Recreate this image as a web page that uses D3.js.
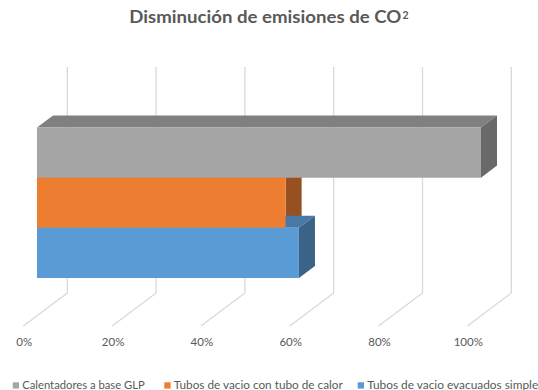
<!DOCTYPE html>
<html>
<head>
<meta charset="utf-8">
<script src="https://cdn.jsdelivr.net/npm/d3@7"></script>
<style>
  html, body { margin: 0; padding: 0; background: #fff; }
  svg { display: block; font-family: Lato, "Open Sans", sans-serif; }
</style>
</head>
<body>
<svg id="chart" width="538" height="390"></svg>
<script>
// Series shown in the chart (one category, three clustered 3D bars)
const seriesNames = [
  "Calentadores a base GLP",
  "Tubos de vacio con tubo de calor",
  "Tubos de vacio evacuados simple"
];
const seriesValues = [1.00, 0.56, 0.59];
const seriesColors = ["#A5A5A5", "#ED7D31", "#5B9BD5"];
const categories = ["Emisiones"];
const tickValues = [0, 0.2, 0.4, 0.6, 0.8, 1.0];
const tickLabels = ["0%", "20%", "40%", "60%", "80%", "100%"];

const svg = d3.select("#chart");
const textColor = "#595959";
const gridColor = "#D9D9D9";

// Oblique projection: value along x, depth toward the back-right, height up
const origin = { x: 23.3, y: 326 };
const depthDX = 44, depthDY = 33;
const wallHeight = 226;

const x = d3.scaleLinear().domain([0, 1]).range([0, 444]);
const catBand = d3.scaleBand().domain(categories).range([0, wallHeight])
  .paddingInner(0).paddingOuter(0.25);
// series ordered top-to-bottom within the category band (height units, upward)
const serBand = d3.scaleBand().domain(seriesNames)
  .range([catBand(categories[0]) + catBand.bandwidth(), catBand(categories[0])]);

const barFront = 0.311, barBack = 0.675; // depth fractions of the bar prisms

function project(v, d, h) {
  return [origin.x + x(v) + d * depthDX, origin.y - d * depthDY - h];
}
const line = d3.line();

// Grid: back wall verticals and floor diagonals
const grid = svg.append("g").attr("stroke", gridColor).attr("stroke-width", 1.3).attr("fill", "none");
tickValues.forEach(t => {
  grid.append("path").attr("d", line([project(t, 1, 0), project(t, 1, wallHeight)]));
  grid.append("path").attr("d", line([project(t, 0, 0), project(t, 1, 0)]));
});

// Axis tick labels along the front edge of the floor
svg.append("g").selectAll("text").data(tickValues).join("text")
  .attr("x", d => project(d, 0, 0)[0] + 1)
  .attr("y", 346)
  .attr("text-anchor", "middle")
  .attr("font-size", 11.5)
  .attr("fill", textColor)
  .text((d, i) => tickLabels[i]);

// Bar prisms: front face in the series colour, top and side shaded darker
const shade = (col, k) => { const c = d3.rgb(col); return d3.rgb(c.r * k, c.g * k, c.b * k).formatHex(); };
const bars = seriesNames.map((name, i) => {
  const bot = serBand(name);                 // reversed range -> lower edge
  return {
    name, v: seriesValues[i], bot, top: bot + serBand.bandwidth(),
    front: seriesColors[i], topC: shade(seriesColors[i], 0.777), sideC: shade(seriesColors[i], 0.636)
  };
});

const g = svg.append("g");
// top and side faces first, then front faces so touching bars hide each other correctly
bars.forEach(b => {
  g.append("path").attr("fill", b.topC).attr("d", line([
    project(0, barFront, b.top), project(b.v, barFront, b.top),
    project(b.v, barBack, b.top), project(0, barBack, b.top)]) + "Z");
  g.append("path").attr("fill", b.sideC).attr("d", line([
    project(b.v, barFront, b.bot), project(b.v, barFront, b.top),
    project(b.v, barBack, b.top), project(b.v, barBack, b.bot)]) + "Z");
});
bars.forEach(b => {
  g.append("path").attr("fill", b.front).attr("d", line([
    project(0, barFront, b.bot), project(b.v, barFront, b.bot),
    project(b.v, barFront, b.top), project(0, barFront, b.top)]) + "Z");
});

// Title with superscript
svg.append("text").attr("x", 129.3).attr("y", 22.7)
  .attr("font-size", 16.5).attr("font-weight", "bold").attr("fill", textColor)
  .attr("textLength", 272).attr("lengthAdjust", "spacingAndGlyphs")
  .text("Disminución de emisiones de CO");
svg.append("text").attr("x", 402.5).attr("y", 19.3)
  .attr("font-size", 10.5).attr("font-weight", "bold").attr("fill", textColor)
  .text("2");

// Legend
const legendX = [12.7, 164.3, 357.7];
const legendW = [122.6, 169, 171];
const lg = svg.append("g");
seriesNames.forEach((name, i) => {
  lg.append("rect").attr("x", legendX[i]).attr("y", 382.3).attr("width", 6.3).attr("height", 6.3)
    .attr("fill", seriesColors[i]);
  lg.append("text").attr("x", legendX[i] + 9.5).attr("y", 389)
    .attr("font-size", 11.5).attr("fill", textColor)
    .attr("textLength", legendW[i]).attr("lengthAdjust", "spacingAndGlyphs")
    .text(name);
});
</script>
</body>
</html>
